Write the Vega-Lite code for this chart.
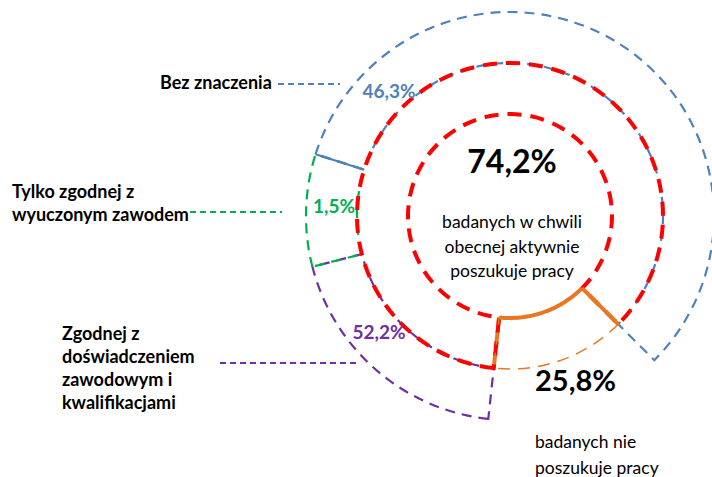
{
  "$schema": "https://vega.github.io/schema/vega-lite/v6.json",
  "width": 712,
  "height": 477,
  "autosize": "none",
  "padding": 0,
  "background": "white",
  "config": {"view": {"stroke": null}, "font": "Lato"},
  "datasets": {
    "rings": [
      {"ring": "inner", "seg": "nie poszukuje", "share": 14.2, "ord": 1},
      {"ring": "inner", "seg": "poszukuje", "share": 85.8, "ord": 2},
      {"ring": "outer", "seg": "brak", "share": 14.2, "ord": 1},
      {"ring": "outer", "seg": "Zgodnej", "share": 19.3, "ord": 2},
      {"ring": "outer", "seg": "Tylko", "share": 8.9, "ord": 3},
      {"ring": "outer", "seg": "Bez", "share": 57.6, "ord": 4}
    ],
    "pct": [
      {"seg": "Bez", "tekst": "46,3%", "X": -121, "Y": 124},
      {"seg": "Tylko", "tekst": "1,5%", "X": -176, "Y": 9},
      {"seg": "Zgodnej", "tekst": "52,2%", "X": -131, "Y": -117}
    ],
    "cats": [
      {"seg": "Bez", "tekst": "Bez znaczenia", "X": -350, "Y": 132, "X0": -232, "X1": -170, "LY": 132},
      {"seg": "Tylko", "tekst": "Tylko zgodnej z\nwyuczonym zawodem", "X": -498, "Y": 23, "X0": -320, "X1": -228, "LY": 4},
      {"seg": "Zgodnej", "tekst": "Zgodnej z\ndoświadczeniem\nzawodowym i\nkwalifikacjami", "X": -448, "Y": -119, "X0": -290, "X1": -150, "LY": -147}
    ],
    "big": [
      {"tekst": "74,2%", "X": 2, "Y": 53}
    ],
    "bigdesc": [
      {"tekst": "badanych w chwili\nobecnej aktywnie\nposzukuje pracy", "X": 2, "Y": -7}
    ],
    "small": [
      {"tekst": "25,8%", "X": 25, "Y": -166}
    ],
    "smalldesc": [
      {"tekst": "badanych nie\nposzukuje pracy", "X": 25, "Y": -227}
    ]
  },
  "layer": [
    {
      "data": {"name": "rings"},
      "transform": [
        {"stack": "share", "groupby": ["ring"], "sort": [{"field": "ord", "order": "ascending"}], "as": ["t0", "t1"]},
        {"filter": "datum.ring === 'outer'"}
      ],
      "mark": {"type": "arc", "innerRadius": 153, "outerRadius": 204, "filled": false, "strokeWidth": 2.2, "strokeDash": [10, 7]},
      "encoding": {
        "x": {"datum": 0, "type": "quantitative", "scale": {"domain": [-510, 202], "nice": false, "zero": false}, "axis": null},
        "y": {"datum": 0, "type": "quantitative", "scale": {"domain": [-261, 216], "nice": false, "zero": false}, "axis": null},
        "theta": {"field": "t0", "type": "quantitative", "scale": {"domain": [0, 100], "range": [2.356, 8.639]}},
        "theta2": {"field": "t1"},
        "stroke": {"field": "seg", "type": "nominal", "scale": {"domain": ["brak", "Zgodnej", "Tylko", "Bez"], "range": ["rgba(0,0,0,0)", "#7030A0", "#00B050", "#4F81BD"]}, "legend": null}
      }
    },
    {
      "data": {"name": "rings"},
      "transform": [
        {"stack": "share", "groupby": ["ring"], "sort": [{"field": "ord", "order": "ascending"}], "as": ["t0", "t1"]},
        {"filter": "datum.seg === 'Bez'"}
      ],
      "mark": {"type": "arc", "innerRadius": 153, "outerRadius": 204, "filled": false, "stroke": "#4F81BD", "strokeWidth": 2.2},
      "encoding": {
        "x": {"datum": 0, "type": "quantitative"},
        "y": {"datum": 0, "type": "quantitative"},
        "theta": {"field": "t0", "type": "quantitative"},
        "theta2": {"field": "t0"}
      }
    },
    {
      "data": {"name": "rings"},
      "transform": [
        {"stack": "share", "groupby": ["ring"], "sort": [{"field": "ord", "order": "ascending"}], "as": ["t0", "t1"]},
        {"filter": "datum.seg === 'nie poszukuje'"}
      ],
      "mark": {"type": "arc", "innerRadius": 102, "outerRadius": 153, "filled": false, "stroke": "#E87722", "strokeWidth": 4, "strokeDash": [16, 6]},
      "encoding": {
        "x": {"datum": 0, "type": "quantitative"},
        "y": {"datum": 0, "type": "quantitative"},
        "theta": {"field": "t1", "type": "quantitative"},
        "theta2": {"field": "t1"}
      }
    },
    {
      "data": {"name": "rings"},
      "transform": [
        {"stack": "share", "groupby": ["ring"], "sort": [{"field": "ord", "order": "ascending"}], "as": ["t0", "t1"]},
        {"filter": "datum.seg === 'poszukuje'"}
      ],
      "mark": {"type": "arc", "innerRadius": 102, "outerRadius": 153, "filled": false, "stroke": "#FF0000", "strokeWidth": 4, "strokeDash": [14, 9]},
      "encoding": {
        "x": {"datum": 0, "type": "quantitative"},
        "y": {"datum": 0, "type": "quantitative"},
        "theta": {"field": "t0", "type": "quantitative"},
        "theta2": {"field": "t1"}
      }
    },
    {
      "data": {"name": "rings"},
      "transform": [
        {"stack": "share", "groupby": ["ring"], "sort": [{"field": "ord", "order": "ascending"}], "as": ["t0", "t1"]},
        {"filter": "datum.seg === 'nie poszukuje'"}
      ],
      "mark": {"type": "arc", "innerRadius": 102, "outerRadius": 153, "filled": false, "stroke": "#E87722", "strokeWidth": 1.5, "strokeDash": [12, 8]},
      "encoding": {
        "x": {"datum": 0, "type": "quantitative"},
        "y": {"datum": 0, "type": "quantitative"},
        "theta": {"field": "t0", "type": "quantitative"},
        "theta2": {"field": "t1"}
      }
    },
    {
      "data": {"name": "rings"},
      "transform": [
        {"stack": "share", "groupby": ["ring"], "sort": [{"field": "ord", "order": "ascending"}], "as": ["t0", "t1"]},
        {"filter": "datum.seg === 'nie poszukuje'"}
      ],
      "mark": {"type": "arc", "innerRadius": 102, "outerRadius": 102, "filled": false, "stroke": "#E87722", "strokeWidth": 4, "strokeDash": [18, 7]},
      "encoding": {
        "x": {"datum": 0, "type": "quantitative"},
        "y": {"datum": 0, "type": "quantitative"},
        "theta": {"field": "t0", "type": "quantitative"},
        "theta2": {"field": "t1"}
      }
    },
    {
      "data": {"name": "rings"},
      "transform": [
        {"stack": "share", "groupby": ["ring"], "sort": [{"field": "ord", "order": "ascending"}], "as": ["t0", "t1"]},
        {"filter": "datum.seg === 'nie poszukuje'"}
      ],
      "mark": {"type": "arc", "innerRadius": 102, "outerRadius": 153, "filled": false, "stroke": "#E87722", "strokeWidth": 4, "strokeDash": [18, 6]},
      "encoding": {
        "x": {"datum": 0, "type": "quantitative"},
        "y": {"datum": 0, "type": "quantitative"},
        "theta": {"field": "t0", "type": "quantitative"},
        "theta2": {"field": "t0"}
      }
    },
    {
      "data": {"name": "cats"},
      "mark": {"type": "rule", "strokeWidth": 2, "strokeDash": [6, 4]},
      "encoding": {
        "x": {"field": "X0", "type": "quantitative"},
        "x2": {"field": "X1"},
        "y": {"field": "LY", "type": "quantitative"},
        "stroke": {"field": "seg", "type": "nominal", "scale": {"domain": ["Bez", "Tylko", "Zgodnej"], "range": ["#2E75B6", "#00B050", "#7030A0"]}, "legend": null}
      }
    },
    {
      "data": {"name": "cats"},
      "mark": {"type": "text", "align": "left", "baseline": "middle", "fontWeight": "bold", "fontSize": 18, "lineBreak": "\n", "lineHeight": 23, "color": "black"},
      "encoding": {
        "x": {"field": "X", "type": "quantitative"},
        "y": {"field": "Y", "type": "quantitative"},
        "text": {"field": "tekst"}
      }
    },
    {
      "data": {"name": "pct"},
      "mark": {"type": "text", "align": "center", "baseline": "middle", "fontWeight": "bold", "fontSize": 19},
      "encoding": {
        "x": {"field": "X", "type": "quantitative"},
        "y": {"field": "Y", "type": "quantitative"},
        "text": {"field": "tekst"},
        "color": {"field": "seg", "type": "nominal", "scale": {"domain": ["Bez", "Tylko", "Zgodnej"], "range": ["#4F81BD", "#00B050", "#7030A0"]}, "legend": null}
      }
    },
    {
      "data": {"name": "big"},
      "mark": {"type": "text", "align": "center", "baseline": "middle", "fontWeight": "bold", "fontSize": 32, "color": "black"},
      "encoding": {
        "x": {"field": "X", "type": "quantitative"},
        "y": {"field": "Y", "type": "quantitative"},
        "text": {"field": "tekst"}
      }
    },
    {
      "data": {"name": "bigdesc"},
      "mark": {"type": "text", "align": "center", "baseline": "middle", "fontSize": 17.5, "lineBreak": "\n", "lineHeight": 24.5, "color": "black"},
      "encoding": {
        "x": {"field": "X", "type": "quantitative"},
        "y": {"field": "Y", "type": "quantitative"},
        "text": {"field": "tekst"}
      }
    },
    {
      "data": {"name": "small"},
      "mark": {"type": "text", "align": "left", "baseline": "middle", "fontWeight": "bold", "fontSize": 29, "color": "black"},
      "encoding": {
        "x": {"field": "X", "type": "quantitative"},
        "y": {"field": "Y", "type": "quantitative"},
        "text": {"field": "tekst"}
      }
    },
    {
      "data": {"name": "smalldesc"},
      "mark": {"type": "text", "align": "left", "baseline": "middle", "fontSize": 17.5, "lineBreak": "\n", "lineHeight": 26, "color": "black"},
      "encoding": {
        "x": {"field": "X", "type": "quantitative"},
        "y": {"field": "Y", "type": "quantitative"},
        "text": {"field": "tekst"}
      }
    }
  ]
}
